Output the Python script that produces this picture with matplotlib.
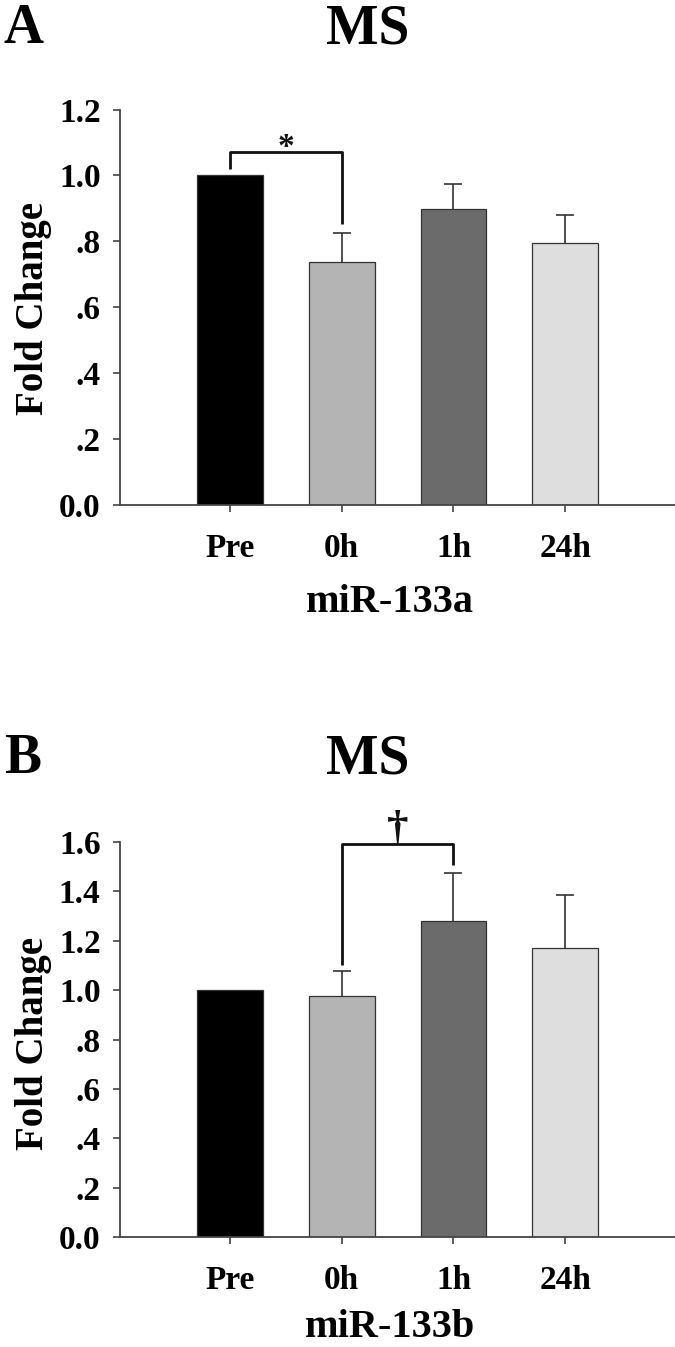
import matplotlib
matplotlib.use("Agg")
import matplotlib.pyplot as plt
import numpy as np

# ---- data ----
categories = ["Pre", "0h", "1h", "24h"]
colors = ["#000000", "#b4b4b4", "#6b6b6b", "#dedede"]

a_values = [1.0, 0.736, 0.898, 0.795]
a_err = [0.0, 0.090, 0.077, 0.084]
a_ticks = [0.0, 0.2, 0.4, 0.6, 0.8, 1.0, 1.2]
a_ticklabels = ["0.0", ".2", ".4", ".6", ".8", "1.0", "1.2"]
a_bracket_x = [0, 0, 1, 1]
a_bracket_y = [1.020, 1.071, 1.071, 0.854]
a_mark = "*"
a_mark_y = 1.085

b_values = [1.0, 0.978, 1.278, 1.169]
b_err = [0.0, 0.100, 0.197, 0.216]
b_ticks = [0.0, 0.2, 0.4, 0.6, 0.8, 1.0, 1.2, 1.4, 1.6]
b_ticklabels = ["0.0", ".2", ".4", ".6", ".8", "1.0", "1.2", "1.4", "1.6"]
b_bracket_x = [1, 1, 2, 2]
b_bracket_y = [1.100, 1.592, 1.592, 1.508]
b_mark = "\u2020"
b_mark_y = 1.655

W, H = 675, 1347
FONT = "Liberation Serif"

fig = plt.figure(figsize=(W / 100, H / 100), dpi=100)
fig.patch.set_facecolor("white")


def px(x, y):
    return x / W, 1 - y / H


def panel(rect, values, err, ticks, ticklabels, ymax, bx, by, mark, mark_y, mark_size):
    ax = fig.add_axes(rect)
    x = np.arange(len(categories))
    ax.bar(x, values, width=0.59, color=colors, edgecolor="#333333", linewidth=0.9, zorder=2)
    errs = np.array(err)
    idx = errs > 0
    vals = np.array(values)[idx]
    ax.vlines(x[idx], vals, vals + errs[idx], color="#333333", linewidth=1.2, zorder=1)
    ax.errorbar(x[idx], vals + errs[idx], yerr=None, fmt="_", color="#333333",
                markersize=13, markeredgewidth=1.2, linestyle="none", zorder=1)
    ax.plot(bx, by, color="#111111", linewidth=2.0, solid_capstyle="butt", zorder=3)
    ax.text((bx[0] + bx[-1]) / 2, mark_y, mark, ha="center", va="center",
            fontsize=mark_size, fontweight="bold", family=FONT, color="#111111")
    ax.set_xlim(-0.985, 4.01)
    ax.set_ylim(0, ymax)
    ax.set_yticks(ticks)
    ax.set_yticklabels(ticklabels)
    ax.set_xticks(x)
    ax.set_xticklabels(categories)
    for s in ["top", "right"]:
        ax.spines[s].set_visible(False)
    for s in ["left", "bottom"]:
        ax.spines[s].set_color("#444444")
        ax.spines[s].set_linewidth(1.3)
    ax.tick_params(axis="both", direction="out", length=5, width=1.2, color="#444444")
    ax.tick_params(axis="y", pad=9, labelsize=24)
    ax.tick_params(axis="x", pad=15, labelsize=24)
    for lab in ax.get_xticklabels() + ax.get_yticklabels():
        lab.set_family(FONT)
        lab.set_fontweight("bold")
    return ax


# panel A
l, b = px(120, 505)
_, t = px(120, 109.5)
axA = panel([l, b, 558 / W, t - b], a_values, a_err, a_ticks, a_ticklabels, 1.2,
            a_bracket_x, a_bracket_y, a_mark, a_mark_y, 24)
# panel B
l, b = px(120, 1237)
_, t = px(120, 842)
axB = panel([l, b, 558 / W, t - b], b_values, b_err, b_ticks, b_ticklabels, 1.6,
            b_bracket_x, b_bracket_y, b_mark, b_mark_y, 31)

# titles / labels
for (letter, base) in [("A", 43), ("B", 773)]:
    fig.text(*px(4, base), letter, fontsize=40, fontweight="bold", family=FONT,
             ha="left", va="baseline")
    fig.text(*px(368, base), "MS", fontsize=40, fontweight="bold", family=FONT,
             ha="center", va="baseline")

fig.text(*px(34, 308), "Fold Change", rotation=90, fontsize=28, fontweight="bold",
         family=FONT, ha="center", va="center")
fig.text(*px(34, 1043), "Fold Change", rotation=90, fontsize=28, fontweight="bold",
         family=FONT, ha="center", va="center")
fig.text(*px(390, 612), "miR-133a", fontsize=29, fontweight="bold", family=FONT,
         ha="center", va="baseline")
fig.text(*px(390, 1337), "miR-133b", fontsize=29, fontweight="bold", family=FONT,
         ha="center", va="baseline")

fig.savefig("out.png", dpi=100, facecolor="white")
